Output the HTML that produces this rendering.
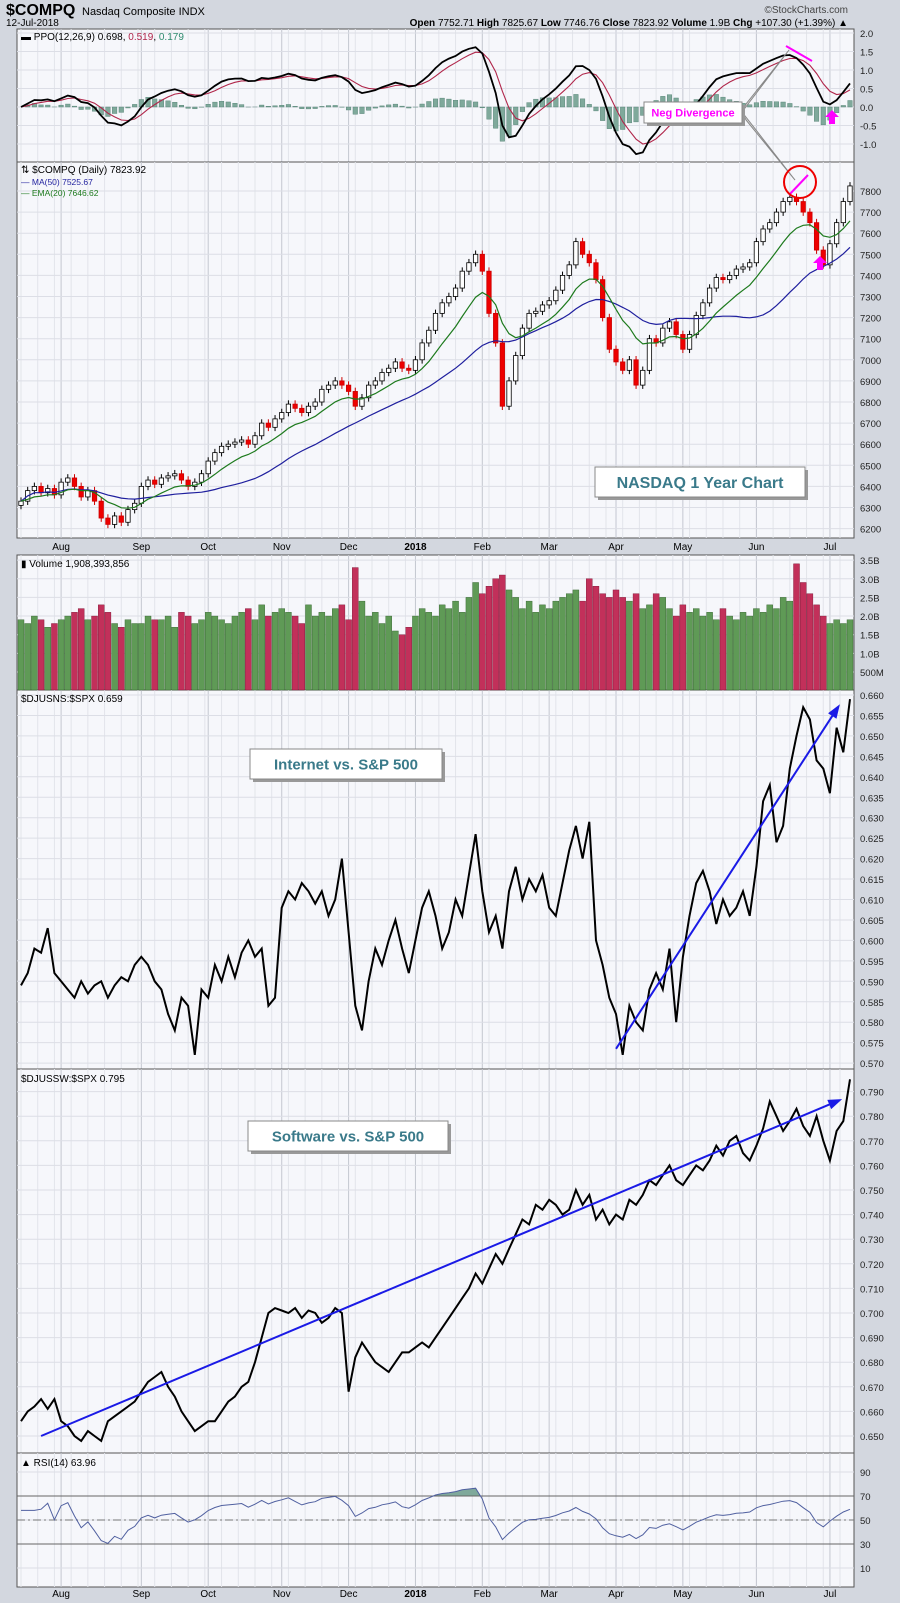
<!DOCTYPE html>
<html><head><meta charset="utf-8"><style>
body{margin:0;background:#d3d7df;}
svg{display:block;font-family:"Liberation Sans",sans-serif;}
</style></head><body>
<svg id="c" width="900" height="1603" viewBox="0 0 900 1603"></svg>
<script>
// ---- data (approx every 2 trading days, late Jul 2017 – 12 Jul 2018) ----
const closes=[6330,6380,6400,6370,6390,6360,
6420,6440,6400,6350,6380,6330,6250,6220,6260,6230,6290,6320,
6400,6430,6410,6440,6450,6460,6430,6400,6420,6460,
6520,6560,6590,6600,6610,6620,6600,6640,6700,6680,6720,
6750,6790,6770,6750,6780,6800,6860,6880,6900,6880,
6850,6780,6820,6880,6900,6940,6960,6990,6960,6950,
7000,7080,7140,7220,7270,7300,7340,7420,7460,7500,
7420,7220,7080,6780,6900,7020,7150,7220,7230,7260,
7280,7330,7400,7450,7560,7500,7460,7380,7200,7050,
6990,6950,7000,6880,6950,7100,7080,7150,7180,7120,
7050,7120,7210,7270,7340,7390,7380,7400,7430,7440,7460,
7560,7620,7650,7700,7750,7770,7750,7700,7650,7520,7450,
7550,7650,7750,7824];
const volumes=[1.9,1.8,2.0,1.9,1.7,1.8,
1.9,2.0,2.1,2.2,1.9,2.0,2.3,2.1,1.8,1.7,1.9,1.8,
1.8,2.0,1.9,1.9,2.0,1.7,2.1,2.0,1.8,1.9,
2.1,2.0,1.9,1.8,2.0,2.1,2.2,1.9,2.3,2.0,2.1,
2.2,2.1,2.0,1.8,2.3,2.0,2.1,2.0,2.2,2.3,
1.9,3.3,2.4,2.0,2.1,1.8,2.0,1.6,1.5,1.7,
2.0,2.2,2.1,2.0,2.3,2.2,2.4,2.1,2.5,2.9,
2.6,2.8,3.0,3.1,2.7,2.5,2.2,2.4,2.1,2.3,
2.2,2.4,2.5,2.6,2.7,2.4,3.0,2.8,2.6,2.5,
2.7,2.5,2.4,2.6,2.2,2.3,2.6,2.5,2.2,2.0,
2.3,2.1,2.2,2.0,2.1,1.9,2.2,2.0,1.9,2.1,2.0,
2.2,2.1,2.3,2.2,2.5,2.4,3.4,2.9,2.6,2.3,2.0,
1.8,1.9,1.8,1.9];
const internet=[0.589,0.592,0.598,0.597,0.603,0.592,
0.590,0.588,0.586,0.590,0.587,0.589,0.590,0.586,0.589,0.591,0.590,0.594,
0.596,0.594,0.590,0.588,0.582,0.578,0.586,0.584,0.572,0.588,
0.586,0.594,0.590,0.596,0.591,0.597,0.600,0.596,0.598,0.584,0.586,
0.608,0.612,0.610,0.614,0.612,0.609,0.612,0.606,0.610,0.620,
0.602,0.584,0.578,0.590,0.598,0.594,0.600,0.605,0.598,0.592,
0.600,0.608,0.612,0.606,0.598,0.602,0.610,0.606,0.616,0.626,
0.612,0.602,0.606,0.598,0.612,0.618,0.610,0.615,0.612,0.616,
0.608,0.606,0.614,0.622,0.628,0.620,0.629,0.600,0.594,0.586,
0.582,0.572,0.584,0.580,0.578,0.588,0.592,0.588,0.598,0.580,
0.596,0.606,0.614,0.617,0.612,0.604,0.610,0.606,0.608,0.612,0.606,
0.618,0.634,0.638,0.624,0.628,0.642,0.650,0.657,0.654,0.644,0.642,
0.636,0.652,0.646,0.659];
const software=[0.656,0.660,0.662,0.665,0.661,0.665,
0.656,0.654,0.650,0.648,0.652,0.650,0.648,0.656,0.658,0.660,0.662,0.664,
0.668,0.672,0.674,0.676,0.670,0.666,0.660,0.656,0.652,0.654,
0.656,0.656,0.660,0.664,0.666,0.670,0.672,0.680,0.690,0.700,0.702,
0.701,0.700,0.702,0.698,0.701,0.700,0.696,0.698,0.702,0.700,
0.668,0.682,0.688,0.684,0.680,0.678,0.676,0.680,0.684,0.684,
0.686,0.688,0.686,0.690,0.694,0.698,0.702,0.706,0.710,0.716,
0.712,0.718,0.724,0.720,0.726,0.732,0.738,0.736,0.744,0.742,
0.746,0.744,0.740,0.742,0.750,0.744,0.748,0.738,0.742,0.736,
0.740,0.738,0.746,0.744,0.748,0.754,0.752,0.756,0.760,0.754,
0.752,0.756,0.760,0.758,0.762,0.768,0.764,0.770,0.772,0.765,0.762,
0.768,0.775,0.786,0.780,0.774,0.778,0.783,0.776,0.772,0.780,0.770,
0.762,0.774,0.778,0.795];
const monthLabels=["Aug","Sep","Oct","Nov","Dec","2018","Feb","Mar","Apr","May","Jun","Jul"];
const monthStarts=[6,18,28,39,49,59,69,79,89,99,110,121];
const priceTicks=[6200,6300,6400,6500,6600,6700,6800,6900,7000,7100,7200,7300,7400,7500,7600,7700,7800];
const ppoTicks=[-1.0,-0.5,0.0,0.5,1.0,1.5,2.0];
const volTicks=[0.5,1.0,1.5,2.0,2.5,3.0,3.5];
const volTickLabels=["500M","1.0B","1.5B","2.0B","2.5B","3.0B","3.5B"];
const internetTicks=[0.570,0.575,0.580,0.585,0.590,0.595,0.600,0.605,0.610,0.615,0.620,0.625,0.630,0.635,0.640,0.645,0.650,0.655,0.660];
const softwareTicks=[0.650,0.660,0.670,0.680,0.690,0.700,0.710,0.720,0.730,0.740,0.750,0.760,0.770,0.780,0.790];
const rsiTicks=[10,30,50,70,90];
const internetTrend=[[89,0.5735],[122,0.6565]];
const softwareTrend=[[3,0.650],[122,0.786]];

// ---- helpers ----
const S=document.getElementById('c'),NS='http://www.w3.org/2000/svg';
function el(t,a,p){const e=document.createElementNS(NS,t);for(const k in a)e.setAttribute(k,a[k]);(p||S).appendChild(e);return e;}
const L=17,R=854,N=closes.length;
const X=i=>L+4+i*(R-L-8)/(N-1);
const yP=p=>191+(7800-p)*0.211;
const yPPO=v=>107-v*37;
const yV=v=>672-(v-0.5)*37.3;
const yI=v=>695+(0.660-v)*4090;
const yS=v=>1436-(v-0.650)*2460;
const yR=v=>1520-(v-50)*1.2;
function ema(a,n){const k=2/(n+1);let o=[],e=a[0];a.forEach((v,i)=>{e=i?v*k+e*(1-k):v;o.push(e);});return o;}
function sma(a,n){return a.map((v,i)=>{const s=a.slice(Math.max(0,i-n+1),i+1);return s.reduce((x,y)=>x+y,0)/s.length;});}
function path(arr,fy){return arr.map((v,i)=>(i?'L':'M')+X(i).toFixed(1)+','+fy(v).toFixed(1)).join('');}
const defs=el('defs',{});
const cp=el('clipPath',{id:'ppoclip'},defs);el('rect',{x:L,y:29,width:R-L,height:133},cp);

// header
let t=el('text',{x:6,y:15,'font-size':16,'font-weight':'bold',fill:'#000'});t.textContent='$COMPQ';

t=el('text',{x:82,y:15,'font-size':11});t.textContent='Nasdaq Composite INDX';

t=el('text',{x:6,y:26,'font-size':10});t.textContent='12-Jul-2018';

t=el('text',{x:848,y:13,'font-size':10,'text-anchor':'end',fill:'#444'});t.textContent='©StockCharts.com';

t=el('text',{x:848,y:26,'font-size':10,'text-anchor':'end'});t.innerHTML='<tspan font-weight="bold">Open</tspan> 7752.71 <tspan font-weight="bold">High</tspan> 7825.67 <tspan font-weight="bold">Low</tspan> 7746.76 <tspan font-weight="bold">Close</tspan> 7823.92 <tspan font-weight="bold">Volume</tspan> 1.9B <tspan font-weight="bold">Chg</tspan> +107.30 (+1.39%) ▲';


// panels
const panels=[['ppo-panel',29,162],['price-panel',162,538],['volume-panel',555,690],['internet-panel',690,1069],['software-panel',1069,1453],['rsi-panel',1453,1587]];
panels.forEach(p=>{const r=el('rect',{x:L,y:p[1],width:R-L,height:p[2]-p[1],fill:'#f6f7fb',stroke:'#555','stroke-width':1});

for(let i=0;i<N;i+=2.5){el('line',{x1:X(i),x2:X(i),y1:p[1],y2:p[2],stroke:'#e2e4ea','stroke-width':1});}
monthStarts.forEach(m=>el('line',{x1:X(m),x2:X(m),y1:p[1],y2:p[2],stroke:'#c4c7d0','stroke-width':1}));});
function hTicks(ticks,fy,labels,y0,y1,dec){ticks.forEach((v,i)=>{const y=fy(v);if(y<y0-1||y>y1+1)return;
el('line',{x1:L,x2:R,y1:y,y2:y,stroke:'#dcdee6'});
const tt=el('text',{x:R+6,y:y+4,'font-size':9.5,fill:'#222'});tt.textContent=labels?labels[i]:v.toFixed(dec);
});}
hTicks(ppoTicks,yPPO,null,29,162,1);
hTicks(priceTicks,yP,null,162,538,0);
hTicks(volTicks,yV,volTickLabels,555,690,1);
hTicks(internetTicks,yI,null,690,1069,3);
hTicks(softwareTicks,yS,null,1069,1453,3);
hTicks(rsiTicks,yR,null,1453,1587,0);
[[550,'price-x-axis'],[1597,'rsi-x-axis']].forEach(a=>monthLabels.forEach((m,i)=>{const tt=el('text',{x:X(monthStarts[i]),y:a[0],'font-size':10,'text-anchor':'middle','font-weight':m==='2018'?'bold':'normal'});tt.textContent=m;
}));

// PPO
const e6=ema(closes,6),e13=ema(closes,13);
const ppo=e6.map((v,i)=>(v-e13[i])/e13[i]*100*0.85);
const sig=ema(ppo,4.5);
const hist=ppo.map((v,i)=>v-sig[i]);
const pg=el('g',{'clip-path':'url(#ppoclip)'});
hist.forEach((h,i)=>{const b=el('rect',{x:X(i)-2.3,y:Math.min(yPPO(0),yPPO(h)),width:4.6,height:Math.abs(yPPO(h)-yPPO(0)),fill:'#7fa99b',stroke:'#4d7d6e','stroke-width':0.4},pg);
});
let pl=el('path',{d:path(sig,yPPO),fill:'none',stroke:'#b0264a','stroke-width':1.1},pg);

pl=el('path',{d:path(ppo,yPPO),fill:'none',stroke:'#000','stroke-width':1.8},pg);

t=el('text',{x:21,y:40,'font-size':10});t.innerHTML='▬ PPO(12,26,9) 0.698, <tspan fill="#b0264a">0.519</tspan>, <tspan fill="#2e8b6e">0.179</tspan>';


// price candles
const ma50=sma(closes,25),ema20=ema(closes,10);
closes.forEach((c,i)=>{const o=i?closes[i-1]:c-20;const up=c>=o;const hi=Math.max(o,c)+18,lo=Math.min(o,c)-18;
const g=el('g',{});
el('line',{x1:X(i),x2:X(i),y1:yP(hi),y2:yP(lo),stroke:up?'#000':'#c00','stroke-width':1},g);
el('rect',{x:X(i)-2.2,y:yP(Math.max(o,c)),width:4.4,height:Math.max(1,Math.abs(yP(o)-yP(c))),fill:up?'#fff':'#e00',stroke:up?'#000':'#c00','stroke-width':0.8},g);});
pl=el('path',{d:path(ma50,yP),fill:'none',stroke:'#1f1f9e','stroke-width':1.2});

pl=el('path',{d:path(ema20,yP),fill:'none',stroke:'#1d7a1d','stroke-width':1.2});

t=el('text',{x:21,y:173,'font-size':10});t.textContent='⇅ $COMPQ (Daily) 7823.92';

t=el('text',{x:21,y:185,'font-size':8.5,fill:'#1f1f9e'});t.textContent='— MA(50) 7525.67';

t=el('text',{x:21,y:196,'font-size':8.5,fill:'#1d7a1d'});t.textContent='— EMA(20) 7646.62';


// volume
volumes.forEach((v,i)=>{const up=i?closes[i]>=closes[i-1]:true;
const b=el('rect',{x:X(i)-3,y:yV(v),width:6,height:690-yV(v),fill:up?'#5f9a56':'#c2305a',stroke:up?'#2e5e28':'#7a1030','stroke-width':0.4});
});
t=el('text',{x:21,y:567,'font-size':10});t.textContent='▮ Volume 1,908,393,856';


// internet ratio
pl=el('path',{d:path(internet,yI),fill:'none',stroke:'#000','stroke-width':2});

t=el('text',{x:21,y:702,'font-size':10});t.textContent='$DJUSNS:$SPX 0.659';

// software ratio
pl=el('path',{d:path(software,yS),fill:'none',stroke:'#000','stroke-width':2});

t=el('text',{x:21,y:1082,'font-size':10});t.textContent='$DJUSSW:$SPX 0.795';


// RSI
const gains=closes.map((c,i)=>i?Math.max(0,c-closes[i-1]):0),losses=closes.map((c,i)=>i?Math.max(0,closes[i-1]-c):0);
const ag=ema(gains,27),al=ema(losses,27);
const rsi=ag.map((g,i)=>{const r=100-100/(1+g/Math.max(al[i],1e-6));return i<3?58:50+(r-56)*0.8;});
const rc=el('clipPath',{id:'rsiclip'},defs);el('rect',{x:L,y:1453,width:R-L,height:yR(70)-1453},rc);
el('path',{d:path(rsi,yR)+`L${X(N-1)},${yR(70)}L${X(0)},${yR(70)}Z`,fill:'#7fa99b','clip-path':'url(#rsiclip)'});
[30,70].forEach(v=>el('line',{x1:L,x2:R,y1:yR(v),y2:yR(v),stroke:'#666','stroke-width':1}));
el('line',{x1:L,x2:R,y1:yR(50),y2:yR(50),stroke:'#777','stroke-dasharray':'8 3 2 3'});
pl=el('path',{d:path(rsi,yR),fill:'none',stroke:'#5060a0','stroke-width':1});

t=el('text',{x:21,y:1466,'font-size':10});t.textContent='▲ RSI(14) 63.96';


// annotations
function trend(tr,fy,name){const a=el('line',{x1:X(tr[0][0]),y1:fy(tr[0][1]),x2:X(tr[1][0]),y2:fy(tr[1][1]),stroke:'#1a1ae6','stroke-width':2});

const x2=X(tr[1][0]),y2=fy(tr[1][1]),ang=Math.atan2(y2-fy(tr[0][1]),x2-X(tr[0][0]));
el('polygon',{points:[[x2+6*Math.cos(ang),y2+6*Math.sin(ang)],[x2-8*Math.cos(ang)+5*Math.sin(ang),y2-8*Math.sin(ang)-5*Math.cos(ang)],[x2-8*Math.cos(ang)-5*Math.sin(ang),y2-8*Math.sin(ang)+5*Math.cos(ang)]].map(p=>p.join(',')).join(' '),fill:'#1a1ae6'});}
trend(internetTrend,yI,'internet-trendline');
trend(softwareTrend,yS,'software-trendline');
function box(x,y,w,h,txt,name,col,fs){const g=el('g',{});
el('rect',{x:x+3,y:y+3,width:w,height:h,fill:'#999'},g);el('rect',{x,y,width:w,height:h,fill:'#fff',stroke:'#888'},g);
const tt=el('text',{x:x+w/2,y:y+h/2+fs*0.36,'font-size':fs,'font-weight':'bold','text-anchor':'middle',fill:col},g);tt.textContent=txt;}
el('polygon',{points:'742,112 789,50 746,104',fill:'#ddd',stroke:'#888'});
el('polygon',{points:'742,112 795,180 746,120',fill:'#ddd',stroke:'#888'});
box(644,102,98,21,'Neg Divergence','neg-divergence-callout','#ff00ff',11);
box(595,467,210,30,'NASDAQ 1 Year Chart','nasdaq-title-box','#3a7a8a',16);
box(250,749,192,30,'Internet vs. S&P 500','internet-title-box','#3a7a8a',15);
box(248,1121,200,30,'Software vs. S&P 500','software-title-box','#3a7a8a',15);
let a=el('line',{x1:786,y1:46,x2:812,y2:61,stroke:'#ff00ff','stroke-width':2});
a=el('line',{x1:789,y1:195,x2:808,y2:175,stroke:'#ff00ff','stroke-width':2});
a=el('circle',{cx:800,cy:182,r:16,fill:'none',stroke:'#e00','stroke-width':2});
function arrow(x,y,name){const p=el('polygon',{points:`${x},${y} ${x+7},${y+7} ${x+3},${y+7} ${x+3},${y+14} ${x-3},${y+14} ${x-3},${y+7} ${x-7},${y+7}`,fill:'#ff00ff'});
}
arrow(832,110,'ppo-up-arrow');arrow(820,256,'price-up-arrow');
</script>
</body></html>
